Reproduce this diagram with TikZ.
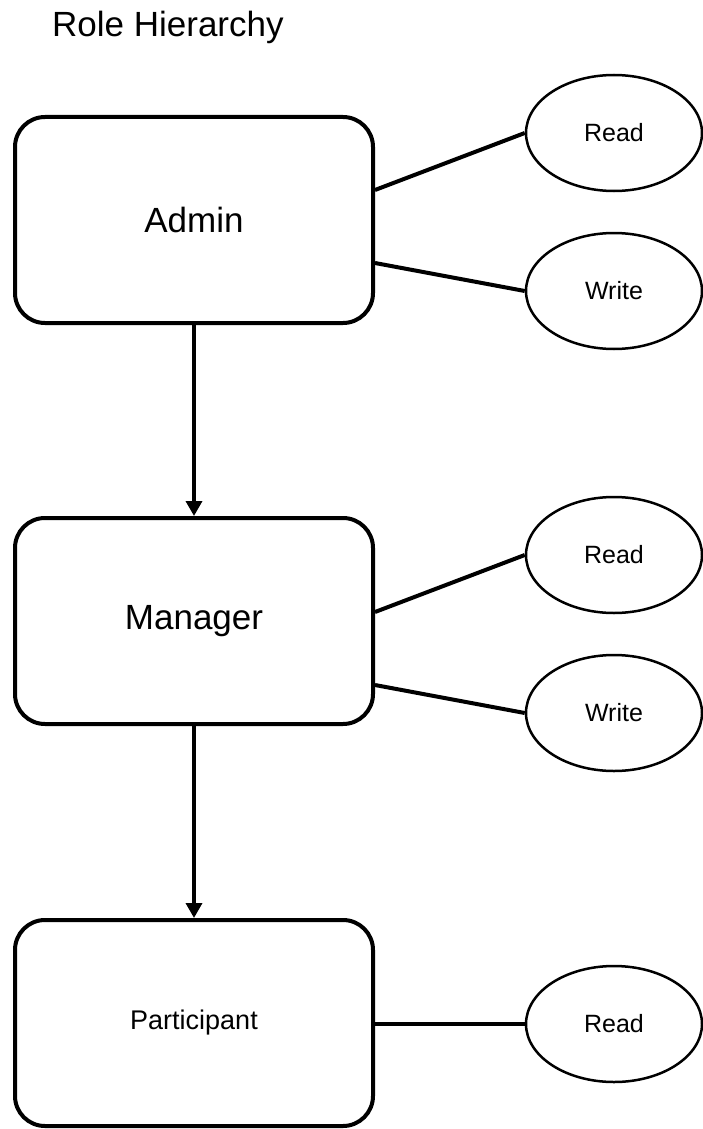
\documentclass[tikz,border=0pt]{standalone}
\usepackage{fontspec}
\setmainfont{Liberation Sans}
\usetikzlibrary{shapes.geometric,arrows.meta}
\begin{document}
\begin{tikzpicture}[x=1pt,y=-1pt,
  rolebox/.style={draw=black,line width=4pt,rounded corners=30pt,rectangle,
    minimum width=358pt,minimum height=206pt,inner sep=0pt,fill=white},
  permell/.style={draw=black,line width=2.5pt,ellipse,minimum width=176pt,
    minimum height=116pt,inner sep=0pt,font=\fontsize{25}{30}\selectfont},
  link/.style={line width=4pt},
  down/.style={line width=3.5pt,-{Triangle[width=16pt,length=15pt]}},
  big/.style={font=\fontsize{35}{42}\selectfont},
]
\useasboundingbox (0,0) rectangle (703,1129);
\node[anchor=base west,font=\fontsize{35}{42}\selectfont,inner sep=0pt] (title) at (52,37) {Role Hierarchy};

\node[rolebox,big] (admin) at (194,220) {Admin};
\node[rolebox,big] (manager) at (194,621) {Manager};
\node[rolebox,font=\fontsize{27}{32}\selectfont] (participant) at (194,1023) {Participant};

\node[permell] (r1) at (614,133) {Read};
\node[permell] (w1) at (614,291) {Write};
\node[permell] (r2) at (614,555) {Read};
\node[permell] (w2) at (614,713) {Write};
\node[permell] (r3) at (614,1024) {Read};

\draw[link] ([yshift=30pt]admin.east) -- (r1.west);
\draw[link] ([yshift=-43pt]admin.east) -- (w1.west);
\draw[link] ([yshift=9pt]manager.east) -- (r2.west);
\draw[link] ([yshift=-64pt]manager.east) -- (w2.west);
\draw[link] ([yshift=-1pt]participant.east) -- (r3.west);

\draw[down] (admin.south) -- (manager.north);
\draw[down] (manager.south) -- (participant.north);
\end{tikzpicture}
\end{document}
